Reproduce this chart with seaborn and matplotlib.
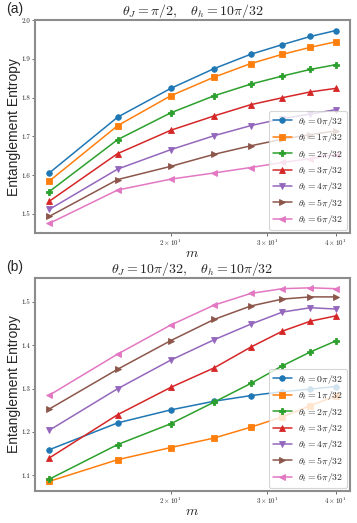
import numpy as np
import pandas as pd
import matplotlib
matplotlib.use("Agg")
import matplotlib.pyplot as plt
import matplotlib.ticker as mticker
import seaborn as sns

# ---------------- data ----------------
m_values = [12, 16, 20, 24, 28, 32, 36, 40]
series_labels = [r"$\theta_t = %d\pi/32$" % k for k in range(7)]

a_t0 = [1.606, 1.750, 1.824, 1.875, 1.912, 1.937, 1.958, 1.973]
a_t1 = [1.585, 1.728, 1.805, 1.853, 1.888, 1.912, 1.930, 1.944]
a_t2 = [1.558, 1.692, 1.761, 1.805, 1.835, 1.856, 1.873, 1.885]
a_t3 = [1.533, 1.656, 1.716, 1.753, 1.782, 1.800, 1.815, 1.824]
a_t4 = [1.512, 1.616, 1.666, 1.702, 1.728, 1.746, 1.758, 1.769]
a_t5 = [1.494, 1.589, 1.623, 1.654, 1.676, 1.693, 1.705, 1.714]
a_t6 = [1.476, 1.562, 1.590, 1.606, 1.620, 1.633, 1.643, 1.653]

b_t0 = [1.159, 1.221, 1.251, 1.271, 1.284, 1.293, 1.299, 1.305]
b_t1 = [1.086, 1.136, 1.164, 1.186, 1.211, 1.235, 1.261, 1.283]
b_t2 = [1.091, 1.171, 1.219, 1.269, 1.312, 1.353, 1.385, 1.410]
b_t3 = [1.140, 1.240, 1.303, 1.348, 1.396, 1.433, 1.456, 1.468]
b_t4 = [1.204, 1.300, 1.366, 1.413, 1.449, 1.477, 1.487, 1.484]
b_t5 = [1.253, 1.345, 1.411, 1.460, 1.491, 1.507, 1.512, 1.512]
b_t6 = [1.285, 1.380, 1.447, 1.493, 1.520, 1.531, 1.533, 1.531]

panel_a = [a_t0, a_t1, a_t2, a_t3, a_t4, a_t5, a_t6]
panel_b = [b_t0, b_t1, b_t2, b_t3, b_t4, b_t5, b_t6]

title_a = r"$\theta_J = \pi/2, \quad \theta_h = 10\pi/32$"
title_b = r"$\theta_J = 10\pi/32, \quad \theta_h = 10\pi/32$"
xtick_vals = [20, 30, 40]
xtick_labels = [r"$2\times10^{1}$", r"$3\times10^{1}$", r"$4\times10^{1}$"]
yticks_a = [1.5, 1.6, 1.7, 1.8, 1.9, 2.0]
yticks_b = [1.1, 1.2, 1.3, 1.4, 1.5]

# ---------------- style ----------------
sns.set_style("white")
plt.rcParams["font.family"] = ["cmr10", "DejaVu Sans"]
plt.rcParams["mathtext.fontset"] = "cm"
plt.rcParams["axes.formatter.use_mathtext"] = True

palette = sns.color_palette("tab10", 7)
markers = ["o", "s", "P", "^", "v", ">", "<"]


def long_df(series):
    rows = []
    for lab, vals in zip(series_labels, series):
        for m, v in zip(m_values, vals):
            rows.append({"m": m, "S": v, "series": lab})
    return pd.DataFrame(rows)


fig = plt.figure(figsize=(3.57, 5.23), dpi=100)
ax_a = fig.add_axes([0.098, 0.5545, 0.882, 0.407])
ax_b = fig.add_axes([0.098, 0.0612, 0.882, 0.407])

for ax, data, title, yt, tag in [
    (ax_a, panel_a, title_a, yticks_a, "(a)"),
    (ax_b, panel_b, title_b, yticks_b, "(b)"),
]:
    df = long_df(data)
    sns.lineplot(
        data=df, x="m", y="S", hue="series", style="series",
        hue_order=series_labels, style_order=series_labels,
        palette=palette, markers=markers, dashes=False,
        linewidth=1.1, legend=False, ax=ax,
    )
    lines = list(ax.lines)[:7]
    for ln in lines:
        ln.set_markeredgecolor(ln.get_color())
        ln.set_markerfacecolor(ln.get_color())
        ln.set_markeredgewidth(0.6)
        ln.set_markersize(4)
    ax.set_xscale("log")
    ax.xaxis.set_major_locator(mticker.NullLocator())
    ax.xaxis.set_minor_locator(mticker.FixedLocator(xtick_vals))
    ax.xaxis.set_minor_formatter(mticker.FixedFormatter(xtick_labels))
    ax.set_yticks(yt)
    ax.yaxis.set_major_formatter(mticker.FormatStrFormatter("%.1f"))
    ax.tick_params(axis="both", which="both", labelsize=5, length=2,
                   width=0.6, color="#555555", direction="out",
                   left=True, bottom=True, pad=1.5)
    for sp in ax.spines.values():
        sp.set_color("#8c8c8c")
        sp.set_linewidth(1.5)
    ax.set_title(title, fontsize=10, pad=1.5)
    ax.set_xlabel(r"$m$", fontsize=10, labelpad=0)
    ax.set_ylabel("Entanglement Entropy", fontsize=10,
                  family=["Liberation Sans", "DejaVu Sans"], labelpad=0.5)
    ax.text(-0.092, 1.05, tag, transform=ax.transAxes, fontsize=10,
            family=["Liberation Sans", "DejaVu Sans"], va="center", ha="left")
    leg = ax.legend(handles=lines, labels=series_labels, loc="lower right",
                    fontsize=7, frameon=True, handlelength=2.0, borderpad=0.4,
                    labelspacing=0.35, handletextpad=0.6, borderaxespad=0.3)
    leg.get_frame().set_edgecolor("#cccccc")
    leg.get_frame().set_linewidth(0.8)

fig.savefig("out.png", dpi=100)
